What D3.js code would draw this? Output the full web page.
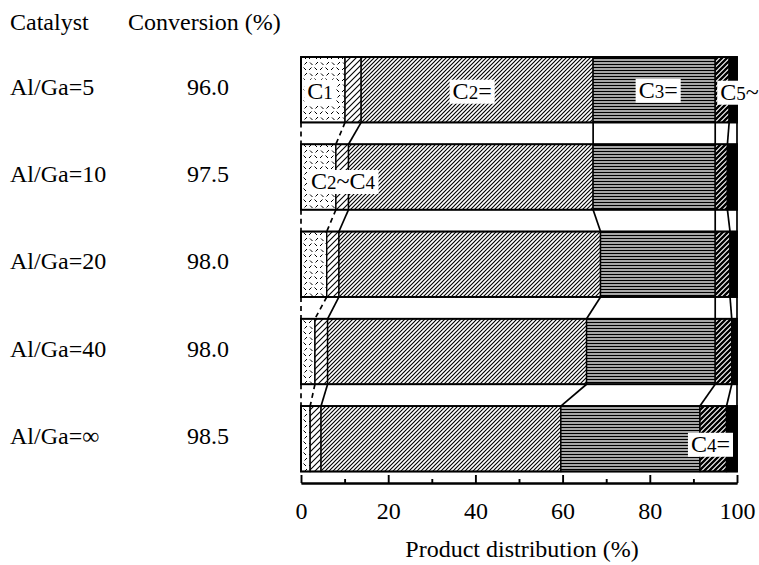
<!DOCTYPE html>
<html lang="en">
<head>
<meta charset="UTF-8">
<title>Product distribution</title>
<style>
  body { margin: 0; background: #fff; }
  svg text { font-family: "Liberation Serif", "Times New Roman", serif; fill: #000; }
</style>
</head>
<body>
<div id="chart"></div>
<script src="https://d3js.org/d3.v7.min.js"></script>
<script>
// data
const catalysts = ["Al/Ga=5", "Al/Ga=10", "Al/Ga=20", "Al/Ga=40", "Al/Ga=∞"];
const conversion = ["96.0", "97.5", "98.0", "98.0", "98.5"];
const products = ["C1", "C2~C4", "C2=", "C3=", "C4=", "C5~"];
const c1    = [10.1, 8.0, 5.9, 3.2, 2.1];
const c2c4  = [3.7, 2.9, 2.8, 2.9, 2.5];
const c2ene = [53.2, 56.1, 60.0, 59.4, 55.0];
const c3ene = [28.0, 28.0, 26.3, 29.5, 31.9];
const c4ene = [3.2, 2.8, 3.4, 3.8, 6.1];
const c5p   = [1.8, 2.2, 1.6, 1.2, 2.4];
const majorTicks = [0, 20, 40, 60, 80, 100];
const minorTicks = [10, 30, 50, 70, 90];

const width = 759, height = 565;
const serif = "'Liberation Serif', 'Times New Roman', serif";
const series = [c1, c2c4, c2ene, c3ene, c4ene, c5p];
const rows = catalysts.map((c, i) => {
  const r = { catalyst: c };
  products.forEach((p, k) => r[p] = series[k][i]);
  return r;
});

const svg = d3.select("#chart").append("svg")
  .attr("width", width).attr("height", height);

const x = d3.scaleLinear().domain([0, 100]).range([301, 737]);
const y = d3.scaleBand().domain(catalysts).range([57, 471.5])
  .paddingInner(0.25).paddingOuter(0);

// hatch patterns
const defs = svg.append("defs");
function pattern(id, w, h, draw) {
  const p = defs.append("pattern").attr("id", id)
    .attr("patternUnits", "userSpaceOnUse")
    .attr("width", w).attr("height", h);
  p.append("rect").attr("width", w).attr("height", h).attr("fill", "#fff");
  draw(p);
}
pattern("pC1", 11, 11, p => p.append("path")
  .attr("d", "M1,4 l2.5,-2.5 M6.5,1.5 l2.5,2.5 M2,7.5 l2.5,2.5 M7.5,9.5 l2.5,-2.5")
  .attr("stroke", "#000").attr("stroke-width", 1));
pattern("pC2C4", 6, 6, p => p.append("path")
  .attr("d", "M0,6 L6,0 M-1,1 L1,-1 M5,7 L7,5")
  .attr("stroke", "#000").attr("stroke-width", 1.1));
pattern("pC2", 4, 4, p => p.append("path")
  .attr("d", "M0,4 L4,0 M-1,1 L1,-1 M3,5 L5,3")
  .attr("stroke", "#000").attr("stroke-width", 1.15));
pattern("pC3", 4, 3, p => p.append("path")
  .attr("d", "M0,1.5 H4")
  .attr("stroke", "#000").attr("stroke-width", 1.7));
pattern("pC4", 5, 5, p => p.append("path")
  .attr("d", "M0,5 L5,0 M-1,1 L1,-1 M4,6 L6,4")
  .attr("stroke", "#000").attr("stroke-width", 2.4));
const fills = ["url(#pC1)", "url(#pC2C4)", "url(#pC2)", "url(#pC3)", "url(#pC4)", "#000"];

const stack = d3.stack().keys(products)(rows);

// segments
stack.forEach((layer, k) => {
  svg.append("g").selectAll("rect")
    .data(layer)
    .join("rect")
    .attr("x", d => x(d[0]))
    .attr("y", d => y(d.data.catalyst))
    .attr("width", d => x(d[1]) - x(d[0]))
    .attr("height", y.bandwidth())
    .attr("fill", fills[k])
    .attr("stroke", "#000")
    .attr("stroke-width", 1.4);
});

// bar outlines
svg.append("g").selectAll("rect")
  .data(rows)
  .join("rect")
  .attr("x", x(0))
  .attr("y", d => y(d.catalyst))
  .attr("width", x(100) - x(0))
  .attr("height", y.bandwidth())
  .attr("fill", "none")
  .attr("stroke", "#000")
  .attr("stroke-width", 1.9);

// connectors between consecutive bars
const bounds = rows.map((r, i) => [0].concat(stack.map(l => l[i][1])));
const links = [];
for (let i = 0; i < rows.length - 1; i++) {
  bounds[i].forEach((b, k) => links.push({ i, k, a: b, b: bounds[i + 1][k] }));
}
svg.append("g").selectAll("line")
  .data(links)
  .join("line")
  .attr("x1", d => x(d.a))
  .attr("y1", d => y(catalysts[d.i]) + y.bandwidth())
  .attr("x2", d => x(d.b))
  .attr("y2", d => y(catalysts[d.i + 1]))
  .attr("stroke", "#000")
  .attr("stroke-width", 1.7)
  .attr("stroke-dasharray", d => d.k < 2 ? "5,4" : null);

// axis
const axisY = 483;
const major = svg.append("g").attr("transform", `translate(0,${axisY})`)
  .call(d3.axisBottom(x).tickValues(majorTicks).tickSizeInner(-8).tickSizeOuter(0).tickPadding(19));
const minor = svg.append("g").attr("transform", `translate(0,${axisY})`)
  .call(d3.axisBottom(x).tickValues(minorTicks).tickSizeInner(-4).tickSizeOuter(0).tickFormat(""));
[major, minor].forEach(g => {
  g.attr("font-family", serif);
  g.selectAll("path, line").attr("stroke", "#000").attr("stroke-width", 1.9);
});
major.selectAll("text")
  .style("font-size", "24px")
  .style("font-family", serif)
  .attr("fill", "#000");

svg.append("text")
  .attr("x", 522).attr("y", 557)
  .attr("text-anchor", "middle")
  .style("font-size", "24px").style("font-family", serif)
  .text("Product distribution (%)");

// header and row labels
svg.append("text").attr("x", 10).attr("y", 30)
  .style("font-size", "24px").style("font-family", serif).text("Catalyst");
svg.append("text").attr("x", 128).attr("y", 30)
  .style("font-size", "24px").style("font-family", serif).text("Conversion (%)");

svg.append("g").selectAll("text")
  .data(catalysts)
  .join("text")
  .attr("x", 10)
  .attr("y", d => y(d) + y.bandwidth() / 2 + 5)
  .style("font-size", "24px").style("font-family", serif)
  .text(d => d);

svg.append("g").selectAll("text")
  .data(conversion)
  .join("text")
  .attr("x", 208)
  .attr("y", (d, i) => y(catalysts[i]) + y.bandwidth() / 2 + 5)
  .attr("text-anchor", "middle")
  .style("font-size", "24px").style("font-family", serif)
  .text(d => d);

// boxed product labels inside the bars
function boxLabel(parts, px, py, anchor) {
  const g = svg.append("g");
  const box = g.append("rect").attr("fill", "#fff");
  const t = g.append("text").attr("x", px).attr("y", py)
    .attr("text-anchor", anchor)
    .style("font-size", "24px").style("font-family", serif);
  parts.forEach(([s, small]) => t.append("tspan")
    .style("font-size", small ? "19px" : "24px").text(s));
  const bb = t.node().getBBox();
  box.attr("x", bb.x - 3).attr("y", bb.y + 2)
    .attr("width", bb.width + 6).attr("height", bb.height - 2);
}
const mid = (i, k) => x((stack[k][i][0] + stack[k][i][1]) / 2);
const cy = i => y(catalysts[i]) + y.bandwidth() / 2;

boxLabel([["C"], ["1", true]], mid(0, 0) - 3, cy(0) + 9, "middle");
boxLabel([["C"], ["2", true], ["="]], mid(0, 2) - 5, cy(0) + 9, "middle");
boxLabel([["C"], ["3", true], ["="]], mid(0, 3) + 4, cy(0) + 8, "middle");
boxLabel([["C"], ["5", true], ["~"]], x(stack[3][0][1]) + 5, cy(0) + 10, "start");
boxLabel([["C"], ["2", true], ["~C"], ["4", true]], x(0) + 10, cy(1) + 12, "start");
boxLabel([["C"], ["4", true], ["="]], x(stack[3][4][1]) - 9, cy(4) + 13, "start");
</script>
</body>
</html>
